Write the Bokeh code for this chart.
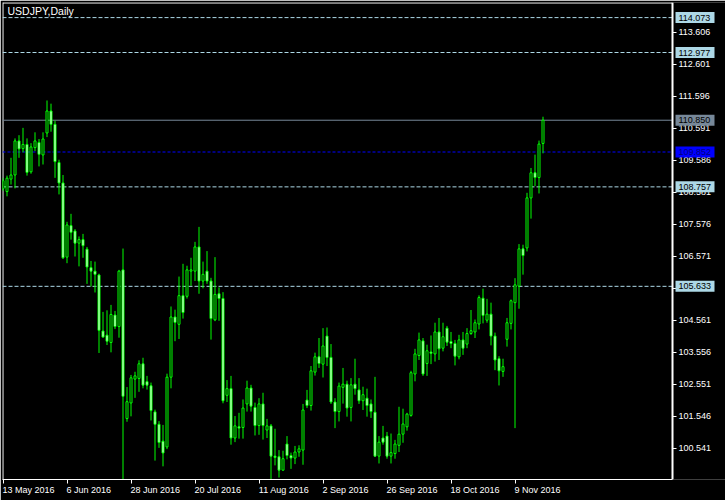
import pandas as pd
from bokeh.plotting import figure
from bokeh.models import (ColumnDataSource, Range1d, FixedTicker, PrintfTickFormatter, Label)
from bokeh.core.properties import value
from bokeh.embed import file_html
from bokeh.resources import INLINE

chart_title = "USDJPY,Daily"
first_date = "2016-05-13"

opens = [108.70, 108.61, 109.00, 109.13, 110.20, 109.96, 110.09, 109.23, 109.99, 110.15,
         109.76, 110.45, 111.14, 110.72, 109.52, 108.88, 106.55, 107.54, 107.37, 106.99,
         107.10, 106.80, 106.22, 106.11, 105.99, 104.23, 104.10, 103.87, 104.73, 104.37,
         106.15, 101.48, 101.97, 102.72, 102.74, 103.20, 102.64, 102.51, 101.69, 101.30,
         100.77, 100.59, 102.78, 104.67, 104.44, 105.34, 105.32, 106.11, 106.11, 106.87,
         105.80, 106.11, 105.80, 104.58, 105.40, 105.25, 102.21, 102.42, 100.87, 101.22,
         101.20, 101.94, 102.44, 101.83, 101.26, 101.94, 101.12, 101.25, 100.30, 100.28,
         99.86, 100.68, 100.32, 100.24, 100.43, 100.49, 102.06, 101.89, 102.94, 103.42,
         103.19, 104.07, 103.40, 102.00, 101.70, 102.46, 102.56, 101.83, 102.56, 102.38,
         102.04, 102.12, 101.94, 101.68, 100.30, 100.87, 100.93, 100.30, 100.38, 100.64,
         100.99, 101.22, 101.58, 102.88, 103.46, 103.92, 103.21, 103.57, 103.51, 104.20,
         103.69, 104.32, 103.90, 103.84, 103.42, 103.95, 103.82, 104.15, 104.20, 104.45,
         105.26, 104.57, 104.76, 104.07, 103.36, 102.96, 103.97, 104.47, 105.12, 105.64,
         106.81, 106.84, 108.41, 109.20, 109.05, 110.12]
highs = [109.04, 109.11, 109.67, 110.28, 110.38, 110.61, 110.28, 110.13, 110.47, 110.26,
         110.47, 111.47, 111.37, 110.84, 109.61, 109.13, 107.66, 107.91, 107.43, 107.20,
         107.28, 106.87, 106.43, 106.41, 106.03, 104.83, 104.88, 105.05, 104.86, 106.15,
         106.82, 102.47, 102.85, 102.95, 103.31, 103.39, 102.82, 102.61, 101.76, 101.40,
         101.28, 102.89, 105.00, 104.90, 105.94, 106.34, 106.28, 106.53, 107.03, 107.50,
         106.41, 106.74, 105.90, 106.55, 105.60, 105.45, 102.69, 102.82, 101.56, 101.66,
         102.08, 102.67, 102.54, 101.98, 102.12, 102.29, 101.47, 101.31, 101.16, 100.49,
         100.47, 100.93, 100.41, 100.62, 100.64, 101.94, 102.38, 103.13, 103.55, 104.01,
         104.32, 104.34, 103.82, 102.12, 102.61, 103.07, 102.67, 102.75, 103.36, 102.75,
         102.48, 102.42, 102.08, 102.79, 100.93, 101.25, 101.06, 101.01, 100.81, 101.85,
         101.79, 101.66, 102.98, 103.67, 104.18, 104.01, 103.80, 104.09, 104.49, 104.64,
         104.49, 104.39, 104.20, 103.95, 104.11, 104.20, 104.32, 104.89, 104.59, 105.35,
         105.56, 105.24, 105.12, 104.18, 103.44, 103.36, 104.64, 105.22, 105.89, 106.96,
         106.94, 108.57, 109.35, 109.77, 110.21, 110.96]
lows = [108.63, 108.46, 108.83, 108.71, 109.67, 109.84, 109.11, 109.17, 109.88, 109.40,
        109.46, 110.32, 110.49, 109.04, 108.52, 106.49, 106.36, 107.10, 106.57, 106.26,
        106.53, 105.71, 105.63, 105.44, 103.54, 104.02, 103.79, 103.56, 104.29, 104.02,
        99.02, 101.38, 101.55, 102.13, 102.32, 102.43, 102.39, 101.42, 100.16, 100.56,
        99.98, 100.52, 102.43, 103.91, 103.98, 104.62, 105.25, 105.65, 105.80, 105.40,
        105.57, 105.71, 103.96, 104.54, 104.55, 101.96, 102.00, 100.66, 100.74, 100.85,
        100.85, 101.70, 101.70, 100.95, 100.97, 100.82, 100.87, 99.54, 100.01, 99.63,
        99.84, 100.20, 99.90, 100.05, 100.28, 100.03, 101.81, 101.73, 102.83, 103.07,
        102.77, 103.13, 101.94, 101.18, 101.39, 101.95, 101.54, 101.39, 102.23, 101.94,
        101.75, 101.54, 101.50, 100.28, 100.07, 100.66, 100.22, 100.07, 100.22, 100.43,
        100.72, 101.10, 101.54, 102.65, 103.32, 102.82, 102.82, 103.19, 103.27, 103.32,
        103.59, 103.76, 103.69, 103.15, 103.34, 103.48, 103.69, 104.11, 104.01, 104.28,
        104.47, 104.49, 103.78, 103.00, 102.52, 102.79, 103.74, 104.28, 101.18, 104.93,
        106.00, 106.73, 107.76, 108.78, 108.55, 109.81]
closes = [108.95, 109.03, 109.13, 110.20, 109.95, 110.09, 109.21, 110.01, 110.20, 109.78,
          110.26, 111.14, 110.72, 109.55, 108.88, 106.53, 107.56, 107.33, 106.99, 107.10,
          106.91, 106.24, 106.11, 106.01, 104.25, 104.04, 103.91, 104.75, 104.37, 106.11,
          102.18, 102.01, 102.76, 102.82, 103.20, 102.53, 102.53, 101.73, 101.30, 100.73,
          100.40, 102.78, 104.67, 104.50, 105.34, 104.81, 106.15, 106.15, 106.87, 105.80,
          106.01, 105.80, 104.62, 105.38, 105.25, 102.04, 102.42, 100.87, 101.25, 101.18,
          101.81, 102.44, 101.87, 101.26, 101.94, 101.26, 101.25, 100.30, 100.26, 99.86,
          100.22, 100.32, 100.24, 100.43, 100.53, 101.75, 101.89, 102.98, 103.42, 103.21,
          103.76, 103.40, 102.00, 101.70, 102.50, 102.56, 101.81, 102.54, 102.42, 102.04,
          102.23, 101.89, 101.70, 100.30, 100.74, 100.74, 100.30, 100.41, 100.68, 100.99,
          101.31, 101.62, 102.92, 103.51, 103.95, 102.88, 103.61, 103.53, 104.20, 103.67,
          104.05, 103.88, 103.84, 103.44, 103.95, 103.69, 104.15, 104.24, 104.49, 105.28,
          104.72, 104.76, 104.07, 103.32, 102.98, 103.11, 104.49, 105.18, 105.68, 106.81,
          106.60, 108.41, 109.20, 109.05, 110.10, 110.85]

x_tick_labels = ["13 May 2016", "6 Jun 2016", "28 Jun 2016", "20 Jul 2016", "11 Aug 2016",
                 "2 Sep 2016", "26 Sep 2016", "18 Oct 2016", "9 Nov 2016"]
y_tick_values = [100.541, 101.546, 102.551, 103.556, 104.561, 105.566, 106.571, 107.576,
                 108.581, 109.586, 110.591, 111.596, 112.601, 113.606]
level_values = [114.073, 112.977, 110.850, 109.852, 108.757, 105.633]
level_kinds = ["level", "level", "price", "bid", "level", "level"]

# ---------------------------------------------------------------- styling
BULL_FILL, BEAR_FILL, CANDLE_LINE = "#000000", "#FFFFFF", "#00FF00"
LEVEL_STYLE = {
    "level": dict(line="#ADD8E6", dash="4 2", box="#ADD8E6", text="#000000"),
    "price": dict(line="#778899", dash="solid", box="#778899", text="#000000"),
    "bid":   dict(line="#0000FF", dash="3 2", box="#0000FF", text="#000080"),
}
FONT = "Liberation Sans"
FSIZE = "9px"
FSIZE_PX = 9.0
BAR_PX = 4.0          # pixels per bar
YEN_PX = 31.84        # pixels per yen
W, H = 725, 500
BORDER_L, BORDER_T, BORDER_B = 2, 2, 21
SCALE_AT_PX = 670     # price scale position, px from the frame's left edge
BOX_W_PX, BOX_H_PX, BOX_GAP_PX = 39, 11, 3
FRAME_W, FRAME_H = W - BORDER_L, H - BORDER_T - BORDER_B

ADV = {" ": 278, "M": 833, "a": 556, "y": 500, "J": 500, "u": 556, "n": 556, "l": 222,
       "A": 667, "g": 556, "S": 667, "e": 556, "p": 556, "O": 778, "c": 500, "t": 278,
       "N": 722, "o": 556, "v": 500}


def text_px(s):
    return sum(ADV.get(ch, 556) for ch in s) * FSIZE_PX / 1000.0


dates = pd.bdate_range(first_date, periods=len(opens))
idx = list(range(len(opens)))
date_pos = {d.strftime("%Y-%m-%d"): i for i, d in enumerate(dates)}
tick_idx = [date_pos[pd.to_datetime(s, format="%d %b %Y").strftime("%Y-%m-%d")]
            for s in x_tick_labels]
label_idx = [t + (text_px(s) / 2 - 0.5) / BAR_PX for t, s in zip(tick_idx, x_tick_labels)]

x0 = -0.125
y1 = 114.5475
x_range = Range1d(x0, x0 + FRAME_W / BAR_PX)
y_range = Range1d(y1 - FRAME_H / YEN_PX, y1)
scale_x = x0 + SCALE_AT_PX / BAR_PX
px_x = 1.0 / BAR_PX
px_y = 1.0 / YEN_PX

p = figure(width=W, height=H, output_backend="svg", toolbar_location=None,
           x_range=x_range, y_range=y_range, y_axis_location="right",
           background_fill_color="black", border_fill_color="black",
           outline_line_color=None,
           min_border_left=BORDER_L, min_border_top=BORDER_T,
           min_border_right=0, min_border_bottom=BORDER_B)
p.xgrid.visible = False
p.ygrid.visible = False

for ax in (p.xaxis[0], p.yaxis[0]):
    ax.axis_line_color = "white"
    ax.major_tick_line_color = "white"
    ax.minor_tick_line_color = None
    ax.major_tick_in = 0
    ax.major_tick_out = 4
    ax.major_label_text_color = "white"
    ax.major_label_text_font = FONT
    ax.major_label_text_font_size = FSIZE

# price scale: a real axis pinned at the right edge of the chart area
yax = p.yaxis[0]
yax.fixed_location = scale_x
yax.ticker = FixedTicker(ticks=y_tick_values)
yax.formatter = PrintfTickFormatter(format="%.3f")
yax.major_label_standoff = 2
yax.axis_line_width = 2

# time scale
xax = p.xaxis[0]
xax.bounds = (x0, scale_x)
xax.ticker = FixedTicker(ticks=label_idx, minor_ticks=tick_idx)
xax.major_label_overrides = {li: s for li, s in zip(label_idx, x_tick_labels)}
xax.major_tick_line_color = None
xax.minor_tick_line_color = "white"
xax.minor_tick_in = 0
xax.minor_tick_out = 4
xax.major_label_standoff = 1

# chart frame: top and left edges
p.line(x=[x0 + 0.5 * px_x, scale_x], y=[y1 - 0.5 * px_y] * 2, line_color="white", line_width=1)
p.line(x=[x0 + 0.5 * px_x] * 2, y=[y_range.start, y1], line_color="white", line_width=1)

# level lines up to the price scale
for lv, kind in zip(level_values, level_kinds):
    st = LEVEL_STYLE[kind]
    p.line(x=[x0, scale_x], y=[lv, lv], line_color=st["line"], line_dash=st["dash"], line_width=1)

# candles
src = ColumnDataSource(dict(
    x=idx, o=opens, h=highs, l=lows, c=closes,
    top=[max(o, c) for o, c in zip(opens, closes)],
    bottom=[min(o, c) for o, c in zip(opens, closes)],
    fill=[BULL_FILL if c > o else BEAR_FILL for o, c in zip(opens, closes)],
))
p.segment(x0="x", y0="l", x1="x", y1="h", source=src, line_color=CANDLE_LINE, line_width=1)
p.vbar(x="x", width=0.5, top="top", bottom="bottom", source=src,
       fill_color="fill", line_color=CANDLE_LINE, line_width=1)

# level price boxes on the price scale (drawn above the scale labels)
box_src = ColumnDataSource(dict(
    x=[scale_x + (BOX_GAP_PX + BOX_W_PX / 2) * px_x] * len(level_values),
    xt=[scale_x] * len(level_values),
    y=level_values,
    label=[f"{v:.3f}" for v in level_values],
    box=[LEVEL_STYLE[k]["box"] for k in level_kinds],
    tc=[LEVEL_STYLE[k]["text"] for k in level_kinds],
))
p.rect(x="x", y="y", width=BOX_W_PX, height=BOX_H_PX, width_units="screen",
       height_units="screen", source=box_src, fill_color="box", line_color=None,
       level="overlay")
p.text(x="xt", y="y", text="label", source=box_src, x_offset=BOX_GAP_PX + 3,
       text_align="left", text_baseline="middle", text_font=value(FONT),
       text_font_size=FSIZE, text_color="tc", level="overlay")

# chart title
p.add_layout(Label(x=x0 + 1.25, y=y1 - 2 * px_y, text=chart_title,
                   text_align="left", text_baseline="top", text_font=FONT,
                   text_font_size="10.5px", text_color="white"))

html = file_html(p, INLINE)
html = html.replace("<body>",
                    '<body style="margin:0;padding:0;overflow:hidden;background-color:#000000;">', 1)
open("out.html", "w").write(html)
